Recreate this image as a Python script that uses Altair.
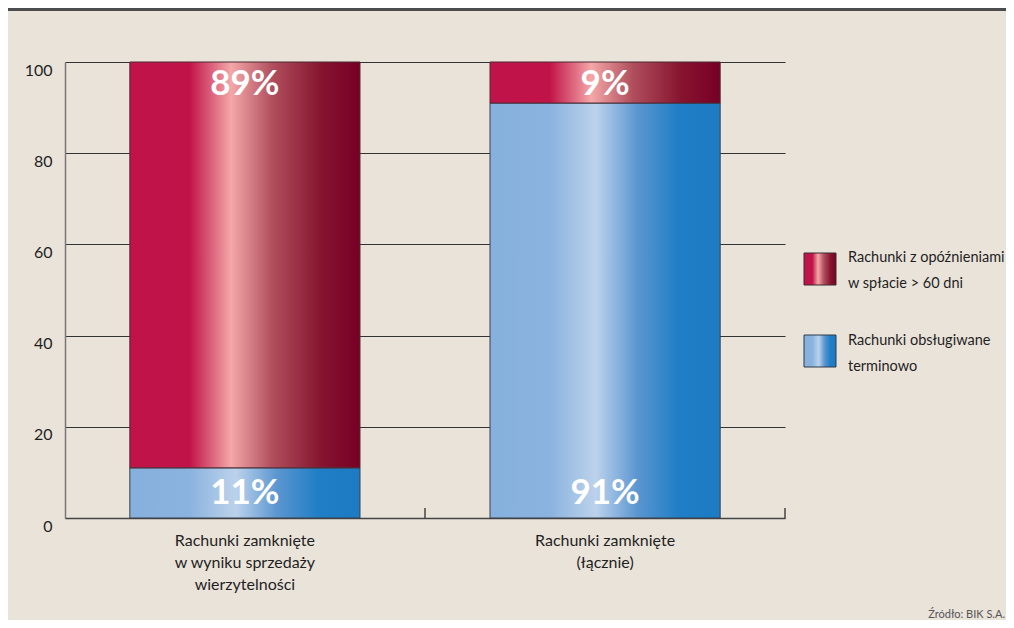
import altair as alt
import pandas as pd

# ---- data ----
categories = ["Rachunki zamknięte|w wyniku sprzedaży|wierzytelności",
              "Rachunki zamknięte|(łącznie)"]
ontime = [11, 91]      # Rachunki obsługiwane terminowo
delayed = [89, 9]      # Rachunki z opóźnieniami w spłacie > 60 dni
series_names = ["Rachunki z opóźnieniami|w spłacie > 60 dni",
                "Rachunki obsługiwane|terminowo"]
y_ticks = [0, 20, 40, 60, 80, 100]
source = "Źródło: BIK S.A."

df = pd.DataFrame({
    "cat": categories,
    "ontime": ontime,
    "delayed": delayed,
})
df["top"] = df["ontime"] + df["delayed"]
df["zero"] = 0
df["ontime_lbl"] = [f"{v}%" for v in ontime]
df["delayed_lbl"] = [f"{v}%" for v in delayed]

FONT = "Lato, Roboto, Liberation Sans, sans-serif"
BG = "#EAE3DA"

red_grad = {
    "gradient": "linear", "x1": 0, "x2": 1, "y1": 0, "y2": 0,
    "stops": [
        {"offset": 0.0, "color": "#C0134A"},
        {"offset": 0.26, "color": "#C01449"},
        {"offset": 0.44, "color": "#F4A7A8"},
        {"offset": 0.62, "color": "#B04E5D"},
        {"offset": 0.83, "color": "#86142F"},
        {"offset": 1.0, "color": "#770026"},
    ],
}
blue_grad = {
    "gradient": "linear", "x1": 0, "x2": 1, "y1": 0, "y2": 0,
    "stops": [
        {"offset": 0.0, "color": "#86B0DD"},
        {"offset": 0.26, "color": "#8BB3DF"},
        {"offset": 0.46, "color": "#BCD2EC"},
        {"offset": 0.64, "color": "#5B96D0"},
        {"offset": 0.82, "color": "#1F7EC5"},
        {"offset": 1.0, "color": "#1D7BC3"},
    ],
}

xscale = alt.Scale(paddingInner=0.361, paddingOuter=0.18)
yscale = alt.Scale(domain=[0, 100], nice=False)

xenc = alt.X("cat:N", sort=categories, title=None, scale=xscale,
             axis=alt.Axis(labelExpr="split(datum.label, '|')", labelAngle=0,
                           labelFont=FONT, labelFontSize=16, labelColor="#1f1f1f",
                           labelLineHeight=22, labelPadding=14, ticks=False,
                           domainColor="#444444", domainWidth=1.5))
xplain = alt.X("cat:N", sort=categories, scale=xscale)

base = alt.Chart(df)

blue_bars = base.mark_bar(fill=blue_grad, stroke="#3b3f48", strokeWidth=1).encode(
    x=xenc,
    y=alt.Y("zero:Q", scale=yscale, title=None,
            axis=alt.Axis(values=y_ticks, grid=True, gridColor="#333333", gridWidth=1,
                          ticks=False, domainColor="#777777", domainWidth=1.5,
                          labelFont=FONT, labelFontSize=16, labelColor="#1f1f1f",
                          labelPadding=13, labelOffset=8)),
    y2="ontime:Q",
)

red_bars = base.mark_bar(fill=red_grad, stroke="#4a2a33", strokeWidth=1).encode(
    x=xplain,
    y=alt.Y("ontime:Q", scale=yscale),
    y2="top:Q",
)

red_text = base.mark_text(font=FONT, fontSize=35, fontWeight="bold", color="white",
                          baseline="middle", dy=22).encode(
    x=xplain,
    y=alt.Y("top:Q", scale=yscale),
    text="delayed_lbl:N",
)

blue_text = base.mark_text(font=FONT, fontSize=35, fontWeight="bold", color="white",
                           baseline="middle", dy=-25).encode(
    x=xplain,
    y=alt.Y("zero:Q", scale=yscale),
    text="ontime_lbl:N",
)

# upward ticks at category boundaries on the x axis
one = pd.DataFrame({"k": [0]})
bound_mid = alt.Chart(one).mark_rule(color="#444444", strokeWidth=1.5).encode(
    x=alt.value(360), y=alt.value(446), y2=alt.value(456))
bound_end = alt.Chart(one).mark_rule(color="#444444", strokeWidth=1.5).encode(
    x=alt.value(720), y=alt.value(446), y2=alt.value(456))

# legend
leg_df = pd.DataFrame({"name": series_names})
leg_red_sw = alt.Chart(leg_df.iloc[[0]]).mark_rect(
    fill=red_grad, stroke="#3a2a30", strokeWidth=1).encode(
    x=alt.value(739), x2=alt.value(771), y=alt.value(191), y2=alt.value(223))
leg_blue_sw = alt.Chart(leg_df.iloc[[1]]).mark_rect(
    fill=blue_grad, stroke="#2f3a48", strokeWidth=1).encode(
    x=alt.value(739), x2=alt.value(771), y=alt.value(273), y2=alt.value(305))
leg_red_tx = alt.Chart(leg_df.iloc[[0]]).mark_text(
    font=FONT, fontSize=14.5, color="#1f1f1f", align="left", baseline="middle",
    lineBreak="|", lineHeight=26).encode(
    x=alt.value(783), y=alt.value(196), text="name:N")
leg_blue_tx = alt.Chart(leg_df.iloc[[1]]).mark_text(
    font=FONT, fontSize=14.5, color="#1f1f1f", align="left", baseline="middle",
    lineBreak="|", lineHeight=26).encode(
    x=alt.value(783), y=alt.value(279), text="name:N")

# header band and source note
header = alt.Chart(one).mark_rect(fill="#4B4C4E").encode(
    x=alt.value(-57), x2=alt.value(941), y=alt.value(-54), y2=alt.value(-51))
src = alt.Chart(pd.DataFrame({"s": [source]})).mark_text(
    font=FONT, fontSize=11, color="#555555", align="right", baseline="alphabetic").encode(
    x=alt.value(940), y=alt.value(100 + 456), text="s:N")

chart = alt.layer(
    blue_bars, red_bars, red_text, blue_text, bound_mid, bound_end,
    leg_red_sw, leg_blue_sw, leg_red_tx, leg_blue_tx, header, src,
).properties(
    width=720, height=456,
    padding={"left": 57, "top": 54, "right": 221, "bottom": 102},
    autosize=alt.AutoSizeParams(type="none"),
    background=BG,
).configure_view(strokeWidth=0)

chart.save("out.html", embed_options={"renderer": "svg", "actions": False})
